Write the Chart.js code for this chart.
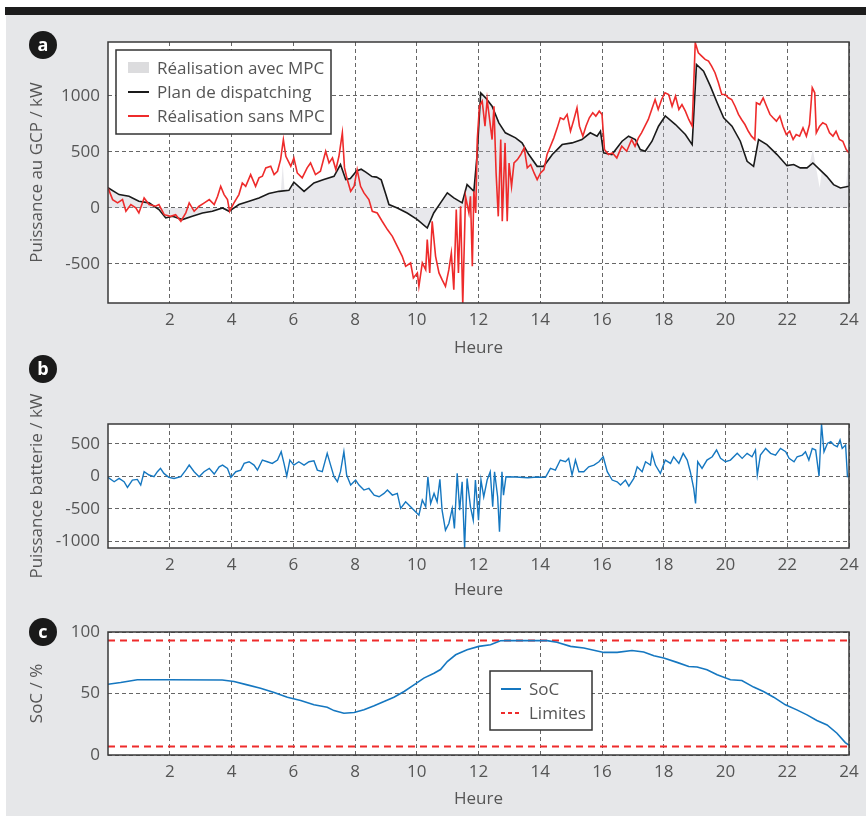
<!DOCTYPE html>
<html lang="fr">
<head>
<meta charset="utf-8">
<script src="https://cdn.jsdelivr.net/npm/chart.js@4"></script>
<style>
  html, body { margin: 0; padding: 0; background: #fff; }
  #page { position: relative; width: 866px; height: 816px; overflow: hidden; background: #fff; font-family: 'Open Sans', sans-serif; }
  #grey { position: absolute; left: 6px; top: 15px; right: 0; bottom: 0; background: #e6e7e9; }
  #bar { position: absolute; left: 5px; top: 7px; right: 0; height: 8px; background: #1c1c1c; }
  canvas { position: absolute; left: 0; }
  .badge { position: absolute; width: 28px; height: 28px; border-radius: 50%; background: #1a1a1a; color: #fff;
           font: bold 18px 'Open Sans', sans-serif; text-align: center; line-height: 26px; }
</style>
</head>
<body>
<div id="page">
  <div id="grey"></div>
  <div id="bar"></div>
  <canvas id="cA" width="866" height="362" style="top:0px"></canvas>
  <canvas id="cB" width="866" height="245" style="top:362px"></canvas>
  <canvas id="cC" width="866" height="207" style="top:607px"></canvas>
  <div class="badge" style="left:29px; top:31px;">a</div>
  <div class="badge" style="left:29px; top:355px;">b</div>
  <div class="badge" style="left:29px; top:618px;">c</div>
</div>
<script>
// ---------- Data ----------
const xTicks = [2, 4, 6, 8, 10, 12, 14, 16, 18, 20, 22, 24];
const yTicksA = [-500, 0, 500, 1000];
const yTicksB = [-1000, -500, 0, 500];
const yTicksC = [0, 50, 100];

// Panel a: Plan de dispatching (kW)
const planH = [0.0,0.36,0.68,1.0,1.33,1.65,1.87,2.09,2.41,2.73,3.06,3.38,3.71,3.92,4.24,4.57,4.89,5.21,5.54,5.86,6.02,6.35,6.67,6.99,7.32,7.53,7.70,7.85,8.05,8.20,8.35,8.55,8.70,8.85,9.00,9.10,9.37,9.69,10.02,10.34,10.55,10.77,10.99,11.20,11.47,11.63,11.85,11.96,12.07,12.23,12.44,12.66,12.87,13.20,13.41,13.63,13.90,14.11,14.39,14.71,15.03,15.35,15.62,15.84,15.95,16.05,16.32,16.65,16.86,17.08,17.24,17.40,17.62,17.83,18.05,18.38,18.70,18.92,19.06,19.29,19.51,19.73,19.94,20.21,20.48,20.70,20.91,21.07,21.34,21.67,21.99,22.21,22.42,22.64,22.83,23.07,23.28,23.50,23.72,24.0];
const planV = [180,119,104,59,45,-15,-89,-75,-104,-75,-45,-30,0,-30,30,59,89,128,148,157,230,148,223,253,282,387,253,262,330,345,320,280,275,250,120,30,0,-45,-104,-179,-45,45,134,89,45,208,148,491,1027,982,907,759,670,625,580,476,371,371,476,565,580,610,670,640,684,491,476,595,640,610,521,506,595,729,820,744,655,565,1280,1220,1086,938,804,729,595,416,371,610,565,476,377,387,357,357,401,337,282,208,178,193];

// Panel a: Réalisation avec MPC (kW)
const mpcH = [0.0,0.36,0.68,1.0,1.33,1.65,1.87,2.09,2.41,2.73,3.06,3.38,3.71,3.92,4.24,4.57,4.89,5.21,5.54,5.60,5.66,5.72,5.86,6.02,6.35,6.67,6.99,7.32,7.53,7.70,7.85,8.05,8.20,8.35,8.55,8.70,8.85,9.00,9.10,9.37,9.69,10.02,10.34,10.55,10.77,10.99,11.20,11.47,11.63,11.85,11.96,12.07,12.23,12.44,12.66,12.87,13.20,13.41,13.63,13.90,14.11,14.39,14.71,15.03,15.35,15.62,15.84,15.95,16.05,16.32,16.65,16.86,17.08,17.24,17.40,17.62,17.83,18.05,18.38,18.70,18.92,19.06,19.29,19.51,19.73,19.94,20.21,20.48,20.70,20.91,21.07,21.34,21.67,21.99,22.21,22.42,22.64,22.70,22.83,23.05,23.12,23.28,23.50,23.72,23.90,24.0];
const mpcV = [180,119,104,59,45,-15,-89,-75,-104,-75,-45,-30,0,-30,30,59,89,128,148,150,387,152,157,230,148,223,253,282,387,253,262,330,345,320,280,275,250,120,30,0,-45,-104,-179,-45,45,134,89,45,208,148,491,1027,982,907,759,670,625,580,476,371,371,476,565,580,610,670,640,684,491,476,595,640,610,521,506,595,729,820,744,655,565,1280,1220,1086,938,804,729,595,416,371,610,565,476,377,387,357,357,370,520,180,330,282,208,178,185,490];

// Panel a: Réalisation sans MPC (kW)
const sansH = [0.0,0.15,0.31,0.47,0.58,0.74,0.9,1.0,1.17,1.33,1.54,1.65,1.82,2.03,2.19,2.36,2.52,2.63,2.79,2.95,3.12,3.28,3.44,3.55,3.65,3.76,3.87,3.94,4.08,4.24,4.35,4.46,4.62,4.78,4.89,5.0,5.11,5.27,5.38,5.49,5.59,5.68,5.76,5.92,6.02,6.13,6.29,6.45,6.56,6.72,6.88,7.05,7.16,7.27,7.38,7.48,7.59,7.66,7.75,7.86,7.97,8.07,8.18,8.29,8.45,8.56,8.72,8.88,9.05,9.21,9.37,9.53,9.64,9.80,9.89,10.02,10.07,10.18,10.29,10.34,10.42,10.50,10.61,10.72,10.82,10.93,11.04,11.12,11.20,11.28,11.35,11.42,11.49,11.58,11.69,11.74,11.80,11.85,11.91,11.96,12.03,12.12,12.21,12.28,12.36,12.44,12.50,12.57,12.64,12.72,12.77,12.86,12.93,12.99,13.07,13.15,13.26,13.37,13.48,13.58,13.69,13.80,13.90,14.01,14.12,14.22,14.33,14.44,14.55,14.65,14.76,14.87,14.98,15.09,15.19,15.27,15.38,15.48,15.59,15.70,15.80,15.91,16.00,16.08,16.21,16.34,16.48,16.64,16.80,16.96,17.07,17.18,17.28,17.39,17.50,17.61,17.72,17.82,17.93,18.04,18.16,18.27,18.38,18.49,18.59,18.70,18.81,18.92,19.02,19.12,19.23,19.34,19.45,19.55,19.66,19.77,19.88,19.99,20.09,20.20,20.31,20.42,20.52,20.63,20.74,20.84,20.95,21.00,21.11,21.22,21.33,21.44,21.54,21.65,21.76,21.86,21.97,22.08,22.19,22.29,22.40,22.51,22.62,22.72,22.81,22.89,22.94,23.05,23.15,23.26,23.37,23.48,23.58,23.69,23.80,23.91,24.0];
const sansV = [179,74,45,74,-30,30,0,-45,89,30,15,30,-60,-75,-60,-119,-45,45,-30,15,45,74,30,104,193,119,74,-30,45,119,223,193,297,193,268,283,357,372,297,327,431,610,461,372,446,312,268,357,401,297,327,506,401,446,342,461,670,357,253,148,193,342,193,134,74,-30,-45,-119,-193,-253,-342,-432,-521,-491,-625,-580,-700,-491,-551,-283,-580,-119,-432,-580,-640,-700,-551,-402,-730,-15,-580,15,-860,104,-45,104,-521,148,-45,610,907,952,729,967,789,610,907,312,-75,610,-119,580,-119,401,193,401,431,476,536,357,387,312,253,312,342,476,550,625,714,804,789,834,684,789,893,729,640,729,804,849,819,863,834,521,476,491,446,550,506,610,550,625,670,729,789,878,967,878,967,1027,1012,907,997,878,922,863,789,729,1474,1384,1354,1325,1310,1265,1206,1116,1012,1012,982,967,907,834,789,744,684,640,610,938,922,982,907,834,804,774,819,729,655,684,610,655,640,714,640,744,1072,1027,670,729,759,744,670,640,684,610,595,521,491];

// Panel b: Puissance batterie (kW)
const battH = [0.0,0.2,0.36,0.52,0.63,0.79,0.95,1.06,1.17,1.33,1.49,1.60,1.70,1.81,1.97,2.14,2.36,2.52,2.63,2.79,2.95,3.11,3.28,3.44,3.60,3.71,3.87,3.98,4.14,4.30,4.41,4.57,4.73,4.84,5.0,5.16,5.32,5.49,5.61,5.70,5.79,5.89,6.02,6.18,6.35,6.51,6.67,6.78,6.94,7.10,7.21,7.32,7.43,7.53,7.64,7.73,7.86,8.02,8.13,8.29,8.45,8.62,8.78,8.94,9.05,9.21,9.37,9.48,9.64,9.80,9.96,10.07,10.18,10.29,10.36,10.45,10.56,10.66,10.75,10.82,10.93,11.04,11.15,11.22,11.31,11.39,11.47,11.55,11.63,11.74,11.83,11.90,12.0,12.08,12.17,12.28,12.38,12.46,12.52,12.62,12.68,12.76,12.81,12.89,13.2,13.6,13.9,14.17,14.33,14.49,14.65,14.82,14.92,15.03,15.14,15.25,15.41,15.57,15.74,15.90,16.04,16.17,16.33,16.49,16.60,16.76,16.87,17.03,17.14,17.30,17.41,17.57,17.62,17.73,17.89,18.05,18.22,18.32,18.49,18.63,18.76,18.86,18.97,19.03,19.10,19.24,19.40,19.57,19.71,19.84,20.0,20.16,20.38,20.54,20.70,20.86,20.97,21.03,21.13,21.30,21.46,21.62,21.78,21.95,22.06,22.22,22.32,22.49,22.59,22.70,22.81,22.92,23.03,23.11,23.19,23.30,23.41,23.51,23.62,23.71,23.78,23.89,23.95,24.0];
const battV = [-15,-82,-31,-82,-169,-56,-46,-133,72,21,-5,72,123,46,-15,-31,-5,97,174,72,-5,72,123,36,148,174,123,-15,72,97,200,225,174,97,251,225,200,251,379,200,5,251,174,225,174,225,241,97,72,354,174,-5,-82,72,379,21,-133,-56,-133,-210,-185,-287,-313,-262,-210,-287,-262,-492,-390,-467,-544,-595,-364,-467,-5,-415,-262,-390,-46,-518,-826,-723,-492,-800,46,-518,-82,-1100,-31,-467,-672,-56,-672,-56,-313,-56,72,-467,72,-313,-851,72,-287,-5,-10,-20,-10,-15,123,97,251,225,277,21,251,72,72,148,174,225,302,72,-56,-82,-133,-56,-148,-31,148,72,225,174,354,174,46,251,200,302,200,354,251,72,-185,-415,225,123,251,302,405,277,225,251,354,277,354,302,405,21,328,430,354,328,430,379,277,225,302,328,379,251,430,405,5,804,379,507,533,482,456,559,430,482,-5,0];

// Panel c: SoC (%) and limits
const socH = [0.0,0.41,0.95,1.92,3.70,4.08,4.51,4.94,5.38,5.81,6.24,6.67,7.10,7.32,7.64,7.97,8.29,8.62,8.94,9.26,9.59,9.91,10.23,10.56,10.77,10.99,11.26,11.63,12.01,12.39,12.71,12.93,14.22,14.54,14.98,15.41,16.06,16.49,16.97,17.35,17.68,18.0,18.43,18.81,19.08,19.40,19.73,20.16,20.53,20.91,21.23,21.56,21.94,22.31,22.64,22.96,23.29,23.61,23.88,24.0];
const socV = [57.5,58.9,61.2,61.2,61,59.8,57,54.3,50.8,47,44.3,40.8,38.8,36.1,34,34.5,36.7,40,43.5,47,51.6,57,62.5,66.5,69.5,76,81.5,85.6,88.3,89.7,92.9,93,93,91.6,88.3,87,83.4,83.4,85,83.7,80.7,78.8,75.3,72,71.5,69.3,65.2,61.2,60.6,55.2,51.6,47,40.8,36.7,32.6,28,24.4,17.7,10.1,8];
const limH = [0, 24];
const limUpper = [93, 93];
const limLower = [7, 7];

// ---------- Helpers ----------
const FONT = "'Open Sans', sans-serif";
const TXT = '#555555';
const FS = 17;
Chart.defaults.font.family = FONT;
Chart.defaults.color = TXT;
const pts = (xs, ys) => xs.map((x, i) => ({ x, y: ys[i] }));

const framePlugin = {
  id: 'frame',
  beforeDraw(chart) {
    const { ctx, chartArea: a } = chart;
    ctx.save();
    ctx.fillStyle = '#ffffff';
    ctx.fillRect(a.left, a.top, a.right - a.left, a.bottom - a.top);
    ctx.restore();
  },
  afterDraw(chart, args, opts) {
    const { ctx, chartArea: a } = chart;
    ctx.save();
    ctx.strokeStyle = '#3a3a3a';
    ctx.lineWidth = 1.5;
    ctx.setLineDash([]);
    ctx.strokeRect(a.left, a.top, a.right - a.left, a.bottom - a.top);
    const lg = opts && opts.legend;
    if (lg) {
      const bx = a.left + lg.dx, by = a.top + lg.dy;
      ctx.fillStyle = '#ffffff';
      ctx.fillRect(bx, by, lg.w, lg.h);
      ctx.strokeStyle = '#333';
      ctx.lineWidth = 1.5;
      ctx.strokeRect(bx, by, lg.w, lg.h);
      ctx.font = FS + "px " + FONT;
      ctx.textBaseline = 'middle';
      ctx.textAlign = 'left';
      lg.items.forEach((it, i) => {
        const y = by + lg.row0 + i * lg.rowGap;
        const sx = bx + lg.sx;
        ctx.save();
        if (it.kind === 'box') {
          ctx.fillStyle = it.color;
          ctx.fillRect(sx, y - 6, lg.sw, 11);
        } else {
          ctx.strokeStyle = it.color;
          ctx.lineWidth = it.width || 2;
          ctx.setLineDash(it.dash || []);
          ctx.beginPath();
          ctx.moveTo(sx, y);
          ctx.lineTo(sx + lg.sw, y);
          ctx.stroke();
        }
        ctx.restore();
        ctx.fillStyle = TXT;
        ctx.fillText(it.text, bx + lg.tx, y + 1);
      });
    }
    ctx.restore();
  }
};

function makeChart(id, datasets, yMin, yMax, yTicks, yTitle, padTop, titlePadBottom, legend) {
  return new Chart(document.getElementById(id), {
    type: 'line',
    data: { datasets },
    plugins: [framePlugin],
    options: {
      responsive: false,
      animation: false,
      events: [],
      layout: { padding: { left: 23, right: 17, top: padTop, bottom: 0 } },
      plugins: { legend: { display: false }, tooltip: { enabled: false }, frame: { legend } },
      elements: { point: { radius: 0 }, line: { tension: 0 } },
      scales: {
        x: {
          type: 'linear', min: 0, max: 24,
          afterBuildTicks: s => { s.ticks = xTicks.map(v => ({ value: v })); },
          afterFit: s => { s.height = 59; },
          ticks: { padding: 7, font: { size: FS }, color: TXT, maxRotation: 0, callback: v => String(v) },
          grid: { color: '#666', lineWidth: 1, drawTicks: false },
          border: { display: false, dash: [4, 3] },
          title: { display: true, text: 'Heure', font: { size: FS }, color: TXT, padding: { top: 4, bottom: titlePadBottom } }
        },
        y: {
          type: 'linear', min: yMin, max: yMax,
          afterBuildTicks: s => { s.ticks = yTicks.map(v => ({ value: v })); },
          afterFit: s => { s.width = 85; },
          ticks: { padding: 8, font: { size: FS }, color: TXT, callback: v => String(v) },
          grid: { color: '#666', lineWidth: 1, drawTicks: false },
          border: { display: false, dash: [4, 3] },
          title: { display: true, text: yTitle, font: { size: FS }, color: TXT, padding: { top: 4, bottom: 4 } }
        }
      }
    }
  });
}

// ---------- Panel a ----------
makeChart('cA', [
  { label: 'Réalisation sans MPC', data: pts(sansH, sansV), borderColor: '#ee2b2b', borderWidth: 1.6, fill: false },
  { label: 'Plan de dispatching', data: pts(planH, planV), borderColor: '#1a1a1a', borderWidth: 1.6, fill: false },
  { label: 'Réalisation avec MPC', data: pts(mpcH, mpcV), borderColor: 'rgba(0,0,0,0)', borderWidth: 0,
    backgroundColor: 'rgba(185,185,195,0.32)', fill: 'origin' }
], -848, 1480, yTicksA, 'Puissance au GCP / kW', 42, 4, {
  dx: 8, dy: 8, w: 215, h: 84, row0: 18, rowGap: 24, sx: 12, sw: 21, tx: 41,
  items: [
    { kind: 'box', color: '#dcdcde', text: 'Réalisation avec MPC' },
    { kind: 'line', color: '#1a1a1a', text: 'Plan de dispatching' },
    { kind: 'line', color: '#ee2b2b', text: 'Réalisation sans MPC' }
  ]
});

// ---------- Panel b ----------
makeChart('cB', [
  { label: 'Puissance batterie', data: pts(battH, battV), borderColor: '#1577c0', borderWidth: 1.4, fill: false }
], -1100, 805, yTicksB, 'Puissance batterie / kW', 62, 7, null);

// ---------- Panel c ----------
makeChart('cC', [
  { label: 'SoC', data: pts(socH, socV), borderColor: '#1577c0', borderWidth: 1.6, fill: false },
  { label: 'Limites', data: pts(limH, limUpper), borderColor: '#ee2b2b', borderWidth: 2, borderDash: [7, 5], fill: false },
  { label: 'Limites (bas)', data: pts(limH, limLower), borderColor: '#ee2b2b', borderWidth: 2, borderDash: [7, 5], fill: false }
], 0, 100, yTicksC, 'SoC / %', 25, 5, {
  dx: 382, dy: 39, w: 102, h: 59, row0: 18, rowGap: 24, sx: 11, sw: 20, tx: 39,
  items: [
    { kind: 'line', color: '#1577c0', text: 'SoC' },
    { kind: 'line', color: '#ee2b2b', dash: [4, 3], text: 'Limites' }
  ]
});
</script>
</body>
</html>
